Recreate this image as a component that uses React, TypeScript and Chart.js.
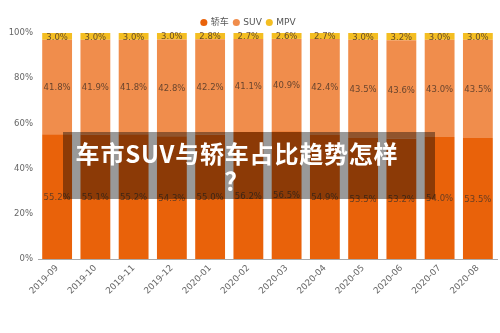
import React, { useEffect, useRef } from "react";
import { Chart, registerables } from "chart.js";

Chart.register(...registerables);

const months = [
  "2019-09", "2019-10", "2019-11", "2019-12", "2020-01", "2020-02",
  "2020-03", "2020-04", "2020-05", "2020-06", "2020-07", "2020-08",
];
const sedanShare = [55.2, 55.1, 55.2, 54.3, 55.0, 56.2, 56.5, 54.9, 53.5, 53.2, 54.0, 53.5];
const suvShare = [41.8, 41.9, 41.8, 42.8, 42.2, 41.1, 40.9, 42.4, 43.5, 43.6, 43.0, 43.5];
const mpvShare = [3.0, 3.0, 3.0, 3.0, 2.8, 2.7, 2.6, 2.7, 3.0, 3.2, 3.0, 3.0];
const yTicks = [0, 20, 40, 60, 80, 100];

const FONT = '"DejaVu Sans", "Noto Sans CJK SC", sans-serif';

// Writes each segment's percentage in the middle of its bar piece.
const segmentLabels = {
  id: "segmentLabels",
  afterDatasetsDraw(chart: any) {
    const ctx = chart.ctx;
    ctx.save();
    ctx.font = `8.5px ${FONT}`;
    ctx.textAlign = "center";
    ctx.textBaseline = "middle";
    ctx.fillStyle = "rgba(80,55,40,0.85)";
    chart.data.datasets.forEach((ds: any, i: number) => {
      const meta = chart.getDatasetMeta(i);
      meta.data.forEach((bar: any, j: number) => {
        const { x, y, base } = bar.getProps(["x", "y", "base"], true);
        ctx.fillText(`${Number(ds.data[j]).toFixed(1)}%`, x, (y + base) / 2 + 1);
      });
    });
    ctx.restore();
  },
};

// Fixes the legend block height so the plot area starts at a set offset.
const legendHeight = {
  id: "legendHeight",
  beforeInit(chart: any) {
    const legend = chart.legend;
    if (!legend) return;
    const originalFit = legend.fit;
    legend.fit = function () {
      originalFit.call(this);
      this.height = 20;
    };
  },
};

export default function App() {
  const canvasRef = useRef<HTMLCanvasElement>(null);

  useEffect(() => {
    if (!canvasRef.current) return;
    const chart = new Chart(canvasRef.current, {
      type: "bar",
      data: {
        labels: months,
        datasets: [
          { label: "轿车", data: sedanShare, backgroundColor: "#E9620A" },
          { label: "SUV", data: suvShare, backgroundColor: "#F08D4C" },
          { label: "MPV", data: mpvShare, backgroundColor: "#F4BE22" },
        ],
      },
      options: {
        animation: false,
        responsive: false,
        maintainAspectRatio: false,
        layout: { padding: { top: 13, right: 3, left: 0, bottom: 0 } },
        datasets: {
          bar: { categoryPercentage: 1, barPercentage: 0.78 },
        },
        plugins: {
          legend: {
            position: "top",
            labels: {
              usePointStyle: true,
              pointStyle: "circle",
              boxWidth: 5,
              boxHeight: 5,
              padding: 5,
              color: "#555",
              font: { family: FONT, size: 9 },
            },
          },
          tooltip: { enabled: false },
        },
        scales: {
          x: {
            stacked: true,
            grid: { display: false, drawTicks: false },
            border: { display: true, color: "#aaa" },
            ticks: {
              color: "#666",
              font: { family: FONT, size: 8.8 },
              maxRotation: 45,
              minRotation: 45,
              padding: 4,
            },
            afterFit(scale: any) {
              scale.height = 74;
            },
          },
          y: {
            stacked: true,
            min: 0,
            max: 100,
            grid: { display: false, drawTicks: false },
            border: { display: false },
            afterBuildTicks(scale: any) {
              scale.ticks = yTicks.map((v) => ({ value: v }));
            },
            ticks: {
              color: "#666",
              font: { family: FONT, size: 8.5 },
              padding: 5,
              callback: (v: any) => `${v}%`,
            },
            afterFit(scale: any) {
              scale.width = 38;
            },
          },
        },
      },
      plugins: [legendHeight, segmentLabels],
    });
    return () => chart.destroy();
  }, []);

  return (
    <div
      style={{
        position: "fixed",
        left: 0,
        top: 0,
        width: 500,
        height: 333,
        background: "#fff",
        overflow: "hidden",
      }}
    >
      <canvas ref={canvasRef} width={500} height={333} style={{ display: "block" }} />
      <div
        style={{
          position: "absolute",
          left: 63,
          top: 132,
          width: 372,
          height: 67,
          background: "rgba(0,0,0,0.4)",
        }}
      >
        <div
          style={{
            position: "absolute",
            left: 4,
            top: 7,
            width: 340,
            textAlign: "center",
            color: "#fff",
            fontFamily: '"Noto Sans CJK SC", "Noto Sans", sans-serif',
            fontWeight: 700,
            fontSize: 24,
            lineHeight: "27px",
            letterSpacing: 0.8,
            whiteSpace: "nowrap",
          }}
        >
          车市SUV与轿车占比趋势怎样
          <br />？
        </div>
      </div>
    </div>
  );
}
